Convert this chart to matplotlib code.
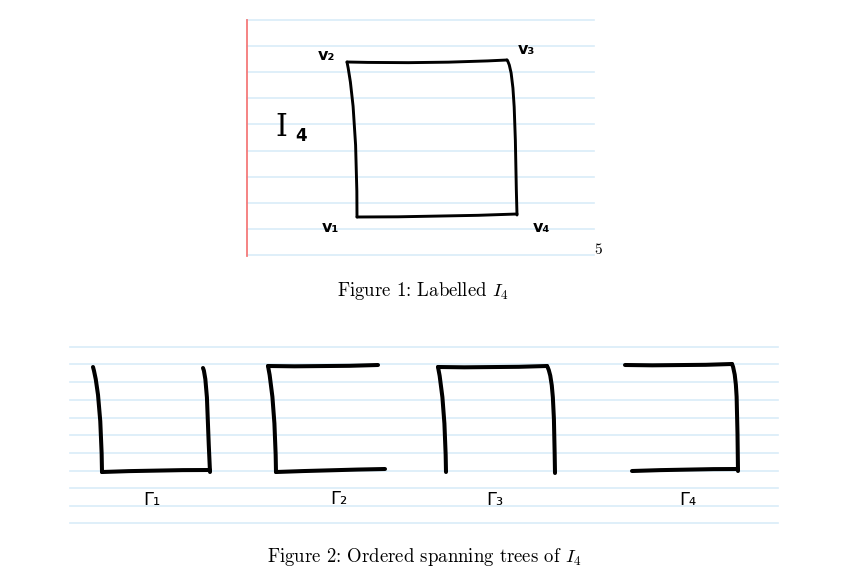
import matplotlib

matplotlib.use("Agg")
import matplotlib.pyplot as plt  # noqa: E402
from matplotlib.path import Path  # noqa: E402
from matplotlib.patches import PathPatch  # noqa: E402

plt.rcParams["mathtext.fontset"] = "cm"

W, H = 860, 585

# ruled paper: top note (Figure 1)
TOP_RULE_Y = [20, 46, 72, 98, 124, 151, 177, 203, 229, 255]
TOP_RULE_X = (247, 594)
MARGIN_X = 247
MARGIN_Y = (20, 256)

# ruled paper: bottom note (Figure 2)
BOT_RULE_Y = [347, 364, 382, 400, 418, 435, 453, 471, 488, 506, 523]
BOT_RULE_X = (70, 778)

# hand-drawn square I4: each stroke is 2 pts (line), 3 (quadratic) or 4 (cubic bezier)
SQUARE_STROKES = [
    [(347, 62), (430, 64), (507, 60)],                       # v2 - v3
    [(507, 60), (516, 72), (515, 150), (517, 215)],          # v3 - v4
    [(517, 214), (440, 217), (357, 217)],                    # v4 - v1
    [(357, 217), (357, 110), (347, 62)],                     # v1 - v2
]
VERTEX_LABELS = ["v₂", "v₃", "v₁", "v₄"]
VERTEX_POS = [(326, 55), (526, 50), (330, 227), (541, 227)]

# spanning trees Gamma_1..Gamma_4
TREES = [
    [
        [(93, 367), (101, 395), (102, 472)],
        [(102, 472), (155, 470), (210, 470)],
        [(203, 368), (208, 380), (208, 440), (210, 472)],
    ],
    [
        [(268, 366), (320, 367), (378, 365)],
        [(268, 366), (275, 400), (276, 472)],
        [(276, 472), (330, 470), (385, 469)],
    ],
    [
        [(438, 367), (490, 368), (547, 366)],
        [(438, 367), (445, 400), (446, 472)],
        [(547, 366), (554, 378), (554, 420), (555, 473)],
    ],
    [
        [(625, 365), (680, 366), (732, 364)],
        [(732, 364), (738, 378), (737, 420), (738, 471)],
        [(632, 471), (690, 469), (738, 469)],
    ],
]
TREE_LABELS = ["Γ₁", "Γ₂", "Γ₃", "Γ₄"]
TREE_LABEL_POS = [(152, 500), (339, 499), (495, 500), (688, 500)]

RULE_COLOR = "#d9ecf8"
INK = "black"
CODES = {
    2: [Path.MOVETO, Path.LINETO],
    3: [Path.MOVETO, Path.CURVE3, Path.CURVE3],
    4: [Path.MOVETO, Path.CURVE4, Path.CURVE4, Path.CURVE4],
}


def draw_stroke(ax, pts, lw):
    patch = PathPatch(Path(pts, CODES[len(pts)]), facecolor="none", edgecolor=INK, lw=lw,
                      capstyle="round", joinstyle="round", zorder=3)
    ax.add_patch(patch)


fig = plt.figure(figsize=(W / 100, H / 100), dpi=100)
ax = fig.add_axes([0, 0, 1, 1])
ax.set_xlim(0, W)
ax.set_ylim(H, 0)
ax.axis("off")

for y in TOP_RULE_Y:
    ax.plot(TOP_RULE_X, (y, y), color=RULE_COLOR, lw=1.2, zorder=1)
ax.plot((MARGIN_X, MARGIN_X), MARGIN_Y, color="#f47a7a", lw=1.3, zorder=2)
for y in BOT_RULE_Y:
    ax.plot(BOT_RULE_X, (y, y), color=RULE_COLOR, lw=1.2, zorder=1)

for stroke in SQUARE_STROKES:
    draw_stroke(ax, stroke, 2.1)
for lab, (x, y) in zip(VERTEX_LABELS, VERTEX_POS):
    ax.text(x, y, lab, fontsize=11.5, ha="center", va="center", fontfamily="DejaVu Sans",
            fontweight="bold", zorder=4)
ax.text(281, 127, "I", fontsize=22, ha="center", va="center", fontfamily="DejaVu Serif")
ax.text(301, 136, "4", fontsize=12, ha="center", va="center", fontfamily="DejaVu Sans",
        fontweight="bold")
ax.text(598, 250, "5", fontsize=11, ha="center", va="center", fontfamily="cmr10")

for tree in TREES:
    for stroke in tree:
        draw_stroke(ax, stroke, 2.9)
for lab, (x, y) in zip(TREE_LABELS, TREE_LABEL_POS):
    ax.text(x, y, lab, fontsize=13, ha="center", va="center", fontfamily="DejaVu Sans", zorder=4)

ax.text(423, 291, r"Figure 1: Labelled $I_4$", fontsize=13.5, ha="center", va="center",
        fontfamily="cmr10")
ax.text(424, 557, r"Figure 2: Ordered spanning trees of $I_4$", fontsize=13.5, ha="center",
        va="center", fontfamily="cmr10")

fig.savefig("out.png", dpi=100)
